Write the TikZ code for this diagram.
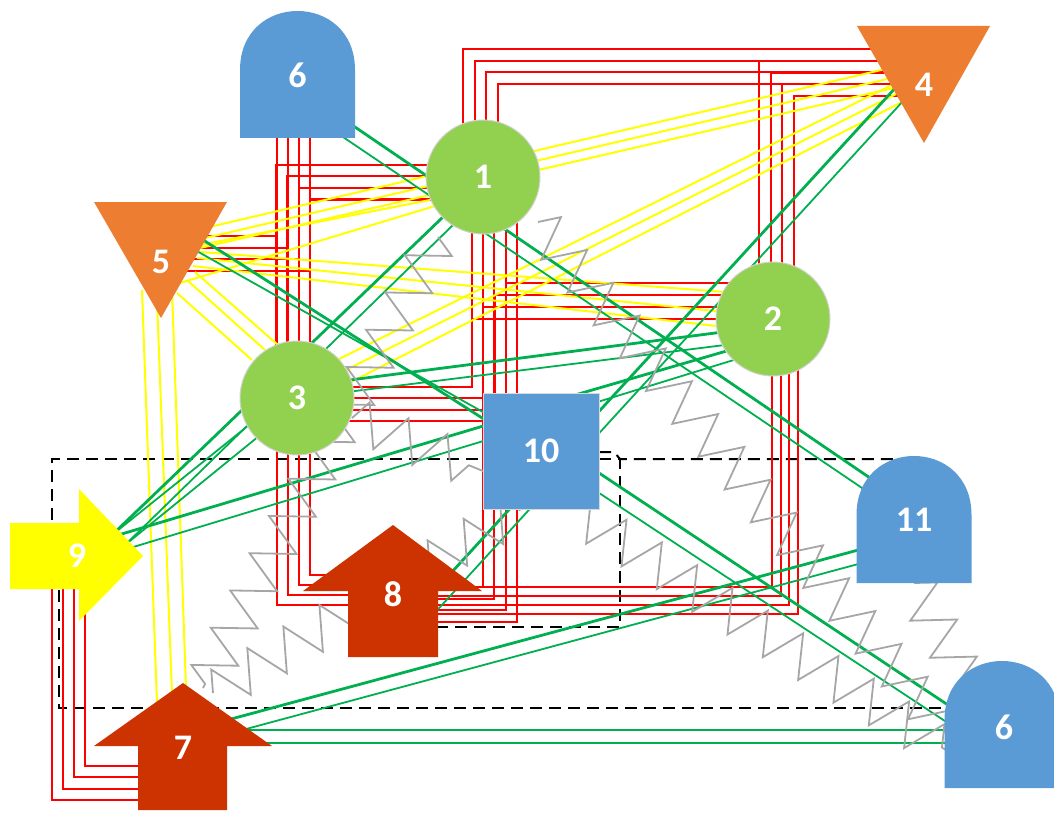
\documentclass[tikz,border=0pt]{standalone}
\usepackage{fontspec}
\setmainfont{Carlito}
\usetikzlibrary{calc,decorations.pathmorphing}
\definecolor{ballgreen}{HTML}{92D050}
\definecolor{domeblue}{HTML}{5B9BD5}
\definecolor{orangeF}{HTML}{ED7D31}
\definecolor{arrowred}{HTML}{CC3300}
\definecolor{arrowyellow}{HTML}{FFFF00}
\definecolor{linered}{HTML}{FF0000}
\definecolor{lineyellow}{HTML}{FFFF00}
\definecolor{linegreen}{HTML}{00B050}
\definecolor{springgray}{HTML}{A6A6A6}
\pgfdeclarelayer{lines}
\pgfsetlayers{lines,main}

% dome: centre x, bottom y, top y
\newcommand\domeshape[3]{%
  \fill[domeblue] (#1-57.5,#2) -- (#1-57.5,#3+59)
    .. controls (#1-57.5,#3-19.7) and (#1+57.5,#3-19.7) .. (#1+57.5,#3+59)
    -- (#1+57.5,#2) -- cycle;}

\begin{document}
\begin{tikzpicture}[
  x=1pt, y=-1pt,
  lbl/.style   = {text=white, font=\fontsize{36}{40}\selectfont\bfseries, inner sep=0pt},
  ball/.style  = {circle, fill=ballgreen, draw=gray!35, line width=1pt,
                  minimum size=114pt, inner sep=0pt, lbl},
  boxnode/.style = {rectangle, fill=domeblue, draw=gray!30, line width=0.8pt,
                  minimum size=116pt, inner sep=0pt, lbl},
  redl/.style  = {draw=linered, line width=2pt},
  yell/.style  = {draw=lineyellow, line width=2pt},
  grn/.style   = {draw=linegreen, line width=1.8pt},
  grnb/.style  = {draw=linegreen, line width=2.8pt},
  spring/.style = {draw=springgray, line width=1.8pt, decorate,
                  decoration={zigzag, segment length=42pt, amplitude=21pt}},
  dashline/.style = {draw=black, line width=2pt, dash pattern=on 12pt off 7pt},
]
  \useasboundingbox (0,0) rectangle (1054,813);

  % circles and square
  \node[ball] (n1) at (483,177) {1};
  \node[ball] (n2) at (773,319) {2};
  \node[ball] (n3) at (297,398) {3};
  \node[boxnode] (n10) at (541,451) {10};

  % domes
  \domeshape{297.5}{138}{11}
  \node[lbl] (n6a) at (297.5,75) {6};
  \domeshape{914}{583}{456}
  \node[lbl] (n11) at (914,520) {11};
  \domeshape{1002}{788}{661}
  \node[lbl] (n6b) at (1004,727) {6};

  % triangles
  \fill[orangeF] (857,26) -- (990,26) -- (924,143) -- cycle;
  \node[lbl] (n4) at (924,85) {4};
  \fill[orangeF] (94,202) -- (227,202) -- (161,318) -- cycle;
  \node[lbl] (n5) at (161,262) {5};

  % block arrows
  \fill[arrowyellow] (10,523) -- (79,523) -- (79,489) -- (143,556)
    -- (79,621) -- (79,589) -- (10,589) -- cycle;
  \node[lbl] (n9) at (77,556) {9};
  \fill[arrowred] (393,525) -- (482,591) -- (438,591) -- (438,657)
    -- (348,657) -- (348,591) -- (303,591) -- cycle;
  \node[lbl] (n8) at (393,594) {8};
  \fill[arrowred] (183,683) -- (272,746) -- (227,746) -- (227,810)
    -- (138,810) -- (138,746) -- (94,746) -- cycle;
  \node[lbl] (n7) at (183,748) {7};

  \begin{pgfonlayer}{lines}
  % dashed frames
  \draw[dashline] (52,520) |- (620,459) -- (620,627) -- (438,627);
  \draw[dashline] (599,452) -- (614,452) -- (620,459) -- (900,459);
  \draw[dashline] (59,590) |- (950,708);

  % red bundles
  \foreach \i in {0,...,3}
    \draw[redl] ($(n6a)+(-21+11.3*\i,60)$) |- ($(n8)+(0,11-10*\i)$);
  \foreach \i in {0,...,3}
    \draw[redl] ($(n1)+(0,-12+11.5*\i)$) -| ($(n3)+(-21+11.3*\i,0)$);
  \foreach \i in {0,...,3}
    \draw[redl] ($(n5)+(0,-26+11.7*\i)$) -| ($(n3)+(-21+11.3*\i,0)$);
  \foreach \i in {0,...,3}
    \draw[redl] ($(n1)+(-20+11.7*\i,0)$) |- ($(n4)+(0,-36+11.7*\i)$);
  \foreach \i in {0,...,3}
    \draw[redl] ($(n4)+(0,-24+11.7*\i)$) -| ($(n2)+(-14+11.7*\i,0)$);
  \foreach \i in {0,...,3}
    \draw[redl] ($(n1)+(11.3*\i,0)$) -- ($(n10)+(-58+11.3*\i,0)$);
  \draw[redl] ($(n1)+(-11,0)$) |- ($(n3)+(0,-11)$);
  \foreach \i in {0,...,2}
    \draw[redl] ($(n2)+(0,-36+12*\i)$) -| ($(n10)+(-35-11.5*\i,0)$);
  \draw[redl] (n2) -| ($(n3)+(175,-11)$) -- ($(n3)+(0,-11)$);
  \foreach \i in {0,...,2}
    \draw[redl] ($(n3)+(0,11.7*\i)$) -- ($(n10)+(0,-53+11.7*\i)$);
  \foreach \i in {0,...,3}
    \draw[redl] ($(n10)+(-58+11.3*\i,0)$) |- ($(n8)+(0,-7+11.5*\i)$);
  \foreach \i in {0,...,3}
    \draw[redl] ($(n2)+(-1+8.5*\i,0)$) |- ($(n8)+(0,-7+9*\i)$);
  \foreach \i in {0,...,3}
    \draw[redl] ($(n9)+(-25+11*\i,0)$) |- ($(n7)+(0,52-11.3*\i)$);

  % yellow links
  \draw[yell] ($(n5)+(44,-34)$) -- ($(n4)+(-30,-18)$);
  \draw[yell] ($(n5)+(44,-24)$) -- ($(n4)+(-28,-8)$);
  \draw[yell] ($(n5)+(39,-14)$) -- ($(n4)+(-26,2)$);
  \draw[yell] ($(n5)+(39,-17)$) -- ($(n1)+(-53,23)$);
  \draw[yell] ($(n5)+(19,21)$) -- ($(n1)+(-48,29)$);
  \draw[yell] ($(n5)+(39,-10)$) -- ($(n2)+(-48,-27)$);
  \draw[yell] ($(n5)+(36,-4)$) -- ($(n2)+(-48,-7)$);
  \draw[yell] ($(n5)+(32,4)$) -- ($(n2)+(-48,8)$);
  \draw[yell] ($(n5)+(16,31)$) -- ($(n3)+(-45,-38)$);
  \draw[yell] ($(n5)+(26,18)$) -- ($(n3)+(-32,-48)$);
  \draw[yell] ($(n5)+(34,10)$) -- ($(n3)+(-19,-53)$);
  \draw[yell] ($(n5)+(-19,28)$) -- ($(n7)+(-26,-44)$);
  \draw[yell] ($(n5)+(-4,38)$) -- ($(n7)+(-11,-54)$);
  \draw[yell] ($(n5)+(11,28)$) -- ($(n7)+(3,-60)$);
  \draw[yell] ($(n3)+(40,-38)$) -- ($(n4)+(-22,-5)$);
  \draw[yell] ($(n3)+(45,-26)$) -- ($(n4)+(-20,5)$);
  \draw[yell] ($(n3)+(50,-14)$) -- ($(n4)+(-18,15)$);

  % green links
  \draw[grnb] ($(n6a)+(54.5,50)$) -- ($(n11)+(-41,-40)$);
  \draw[grn]  ($(n6a)+(45.5,62)$) -- ($(n11)+(-49,-30)$);
  \draw[grnb] ($(n5)+(39,-24)$) -- ($(n10)+(-51,-28)$);
  \draw[grn]  ($(n5)+(34,-12)$) -- ($(n10)+(-51,-35)$);
  \draw[grnb] ($(n10)+(49,16)$) -- ($(n6b)+(-47,-16)$);
  \draw[grn]  ($(n10)+(49,36)$) -- ($(n6b)+(-47,2)$);
  \draw[grnb] ($(n4)+(-26,0)$) -- ($(n8)+(47,-9)$);
  \draw[grn]  ($(n4)+(-20,15)$) -- ($(n8)+(37,24)$);
  \draw[grnb] ($(n1)+(-40,40)$) -- ($(n9)+(35,-21)$);
  \draw[grn]  ($(n1)+(-30,48)$) -- ($(n9)+(48,-11)$);
  \draw[grn]  ($(n3)+(-48,27)$) -- ($(n9)+(35,-21)$);
  \draw[grn]  ($(n3)+(-38,38)$) -- ($(n9)+(48,-11)$);
  \draw[grnb] ($(n10)+(-51,-27)$) -- ($(n9)+(38,-20)$);
  \draw[grn]  ($(n10)+(-51,-12)$) -- ($(n9)+(53,-8)$);
  \draw[grnb] ($(n2)+(-50,13)$) -- ($(n3)+(53,-18)$);
  \draw[grn]  ($(n2)+(-48,26)$) -- ($(n3)+(50,-6)$);
  \draw[grnb] ($(n2)+(-43,31)$) -- ($(n10)+(34,-56)$);
  \draw[grn]  ($(n2)+(-36,40)$) -- ($(n10)+(50,-47)$);
  \draw[grnb] ($(n11)+(-52,29)$) -- ($(n7)+(37,-26)$);
  \draw[grn]  ($(n11)+(-52,43)$) -- ($(n7)+(52,-16)$);
  \draw[grnb] ($(n7)+(50,-18)$) -- ($(n6b)+(-40,3)$);
  \draw[grn]  ($(n7)+(50,-5)$) -- ($(n6b)+(-40,16)$);

  % springs
  \draw[spring] ($(n1)+(-45,60)$) -- ($(n7)+(20,-60)$);
  \draw[spring] ($(n3)+(55,20)$) -- ($(n10)+(-58,20)$);
  \draw[spring] ($(n7)+(30,-55)$) -- ($(n10)+(-20,58)$);
  \draw[spring] ($(n1)+(55,45)$) -- ($(n6b)+(-55,10)$);
  \draw[spring] ($(n11)+(0,63)$) -- ($(n6b)+(-40,-50)$);
  \draw[spring] ($(n10)+(30,58)$) -- ($(n6b)+(-55,25)$);
  \end{pgfonlayer}
\end{tikzpicture}
\end{document}
